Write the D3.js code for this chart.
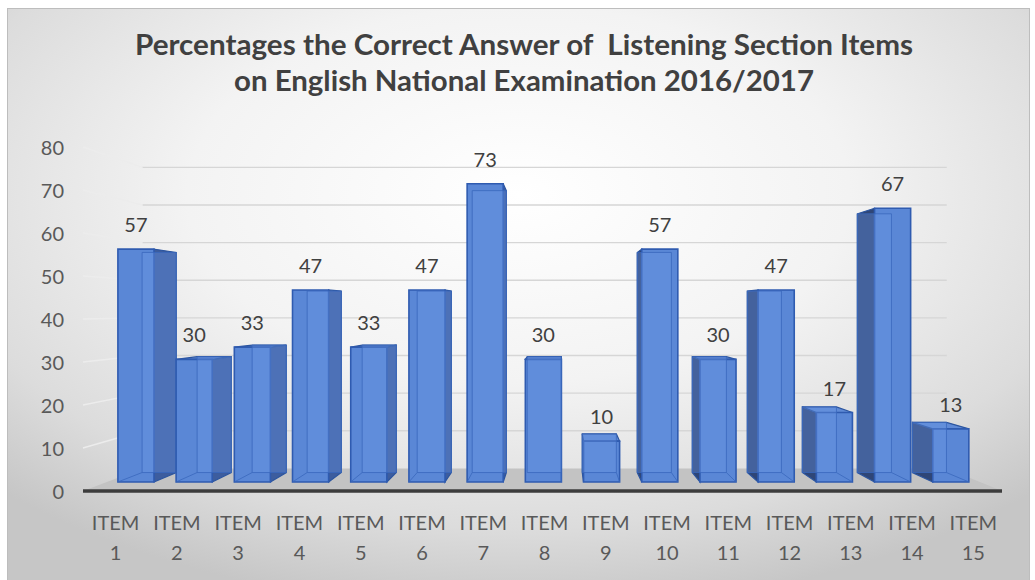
<!DOCTYPE html>
<html>
<head>
<meta charset="utf-8">
<script src="https://cdn.jsdelivr.net/npm/d3@7"></script>
<style>
  html, body { margin: 0; padding: 0; background: #ffffff; }
  svg { display: block; }
  text { font-family: Lato, "Open Sans", sans-serif; }
</style>
</head>
<body>
<script>
// ---- Data ----
const titleLines = ["Percentages the Correct Answer of  Listening Section Items", "on English National Examination 2016/2017"];
const categories = ["ITEM 1","ITEM 2","ITEM 3","ITEM 4","ITEM 5","ITEM 6","ITEM 7","ITEM 8","ITEM 9","ITEM 10","ITEM 11","ITEM 12","ITEM 13","ITEM 14","ITEM 15"];
const values = [57, 30, 33, 47, 33, 47, 73, 30, 10, 57, 30, 47, 17, 67, 13];
const yTicks = [0, 10, 20, 30, 40, 50, 60, 70, 80];

// ---- Setup ----
const W = 1035, H = 580;
const svg = d3.select("body").append("svg").attr("width", W).attr("height", H);
const defs = svg.append("defs");
const rg = defs.append("radialGradient").attr("id", "bg")
  .attr("cx", "0.5").attr("cy", "0.32").attr("r", "0.72").attr("fx", "0.5").attr("fy", "0.32");
rg.append("stop").attr("offset", "0").attr("stop-color", "#ffffff");
rg.append("stop").attr("offset", "0.45").attr("stop-color", "#f3f3f3");
rg.append("stop").attr("offset", "0.8").attr("stop-color", "#dcdcdc");
rg.append("stop").attr("offset", "1").attr("stop-color", "#c6c6c6");

svg.append("rect").attr("x", 7.5).attr("y", 8.5).attr("width", 1022).attr("height", 580)
  .attr("fill", "url(#bg)").attr("stroke", "#bdbdbd").attr("stroke-width", 1);

// ---- Scales (front plane) and simple perspective ----
const x = d3.scaleBand().domain(categories).range([83, 1002]);
const y = d3.scaleLinear().domain([0, 80]).range([491, 147]);
const VX = 560, VY = 310;
const S_BACK = 0.875, S_BF = 0.95, S_BB = 0.898;
const P = (xf, yf, s) => [VX + (xf - VX) * s, VY + (yf - VY) * s];
const poly = pts => pts.map(p => p.join(",")).join(" ");
const xL = x.range()[0], xR = x.range()[1];

// Floor
svg.append("polygon")
  .attr("points", poly([P(xL, y(0), 1), P(xR, y(0), 1), P(xR, y(0), S_BACK), P(xL, y(0), S_BACK)]))
  .attr("fill", "#c3c3c3");
svg.append("line")
  .attr("x1", xL).attr("x2", xR).attr("y1", y(0)).attr("y2", y(0))
  .attr("stroke", "#3c3c3c").attr("stroke-width", 3.5);

// Gridlines: left wall + back wall
const grid = svg.append("g");
yTicks.filter(v => v > 0).forEach(v => {
  const a = P(xL, y(v), 1), b = P(xL, y(v), S_BACK), c = P(xR, y(v), S_BACK);
  grid.append("line").attr("x1", a[0]).attr("y1", a[1]).attr("x2", b[0]).attr("y2", b[1])
    .attr("stroke", "#ececec").attr("stroke-width", 1.5);
  grid.append("line").attr("x1", b[0]).attr("y1", b[1]).attr("x2", c[0]).attr("y2", c[1])
    .attr("stroke", "#d6d6d6").attr("stroke-width", 1.3);
});

// Y tick labels
svg.append("g").selectAll("text").data(yTicks).join("text")
  .attr("x", 64).attr("y", d => y(d)).attr("text-anchor", "end")
  .attr("dominant-baseline", "central")
  .attr("font-size", 20).attr("fill", "#595959").text(d => d);

// Bars
const bw = x.bandwidth();
const barW = bw * 0.62;
const order = d3.range(categories.length).sort((a, b) =>
  Math.abs(x(categories[b]) + bw / 2 - VX) - Math.abs(x(categories[a]) + bw / 2 - VX));
const barsG = svg.append("g");
const EDGE = "#2c559f";
order.forEach(i => {
  const c = categories[i], v = values[i];
  const x0 = x(c) + (bw - barW) / 2, x1 = x0 + barW;
  const yb = y(0), yt = y(v);
  const g = barsG.append("g");
  const F = (xx, yy) => P(xx, yy, S_BF);
  const B = (xx, yy) => P(xx, yy, S_BB);
  // right side visible when bar is left of vanishing point
  if (x1 < VX) {
    g.append("polygon").attr("points", poly([F(x1, yb), B(x1, yb), B(x1, yt), F(x1, yt)]))
      .attr("fill", "#3d5d9e").attr("stroke", EDGE).attr("stroke-width", 1.2);
  }
  if (x0 > VX) {
    g.append("polygon").attr("points", poly([F(x0, yb), B(x0, yb), B(x0, yt), F(x0, yt)]))
      .attr("fill", "#2f4677").attr("stroke", EDGE).attr("stroke-width", 1.2);
  }
  if (F(0, yt)[1] > VY) {
    g.append("polygon").attr("points", poly([F(x0, yt), F(x1, yt), B(x1, yt), B(x0, yt)]))
      .attr("fill", "#5f8ad6").attr("stroke", EDGE).attr("stroke-width", 1.2);
  }
  // front face
  g.append("polygon").attr("points", poly([F(x0, yb), F(x1, yb), F(x1, yt), F(x0, yt)]))
    .attr("fill", "#5a87d6").attr("stroke", "#2f5bb0").attr("stroke-width", 1.6);
  // hidden edges seen through (translucent look)
  g.append("polygon").attr("points", poly([B(x0, yb), B(x1, yb), B(x1, yt), B(x0, yt)]))
    .attr("fill", "#6c98e4").attr("fill-opacity", 0.35)
    .attr("stroke", "#3a68bd").attr("stroke-opacity", 0.8).attr("stroke-width", 1);
  const hx = x1 < VX ? x0 : x1;
  const a = F(hx, yb), b = B(hx, yb);
  g.append("line").attr("x1", a[0]).attr("y1", a[1]).attr("x2", b[0]).attr("y2", b[1])
    .attr("stroke", "#3a68bd").attr("stroke-opacity", 0.8).attr("stroke-width", 1);
  // data label
  const top = F((x0 + x1) / 2, yt);
  svg.append("text").attr("x", top[0]).attr("y", top[1] - 25)
    .attr("text-anchor", "middle").attr("dominant-baseline", "central")
    .attr("font-size", 20).attr("fill", "#404040").text(v);
});

// Category labels (two lines)
const cl = svg.append("g");
categories.forEach(c => {
  const parts = c.split(" ");
  const cx = x(c) + bw / 2 + 2;
  cl.append("text").attr("x", cx).attr("y", 522).attr("text-anchor", "middle")
    .attr("dominant-baseline", "central").attr("font-size", 20).attr("fill", "#595959").text(parts[0]);
  cl.append("text").attr("x", cx).attr("y", 552).attr("text-anchor", "middle")
    .attr("dominant-baseline", "central").attr("font-size", 20).attr("fill", "#595959").text(parts[1]);
});

// Title
const tw = [778, 580];
titleLines.forEach((t, k) => {
  svg.append("text").attr("x", 524).attr("y", [44, 80][k])
    .attr("text-anchor", "middle").attr("dominant-baseline", "central")
    .attr("font-size", 28).attr("font-weight", "bold").attr("fill", "#404040")
    .style("white-space", "pre")
    .attr("textLength", tw[k]).attr("lengthAdjust", "spacingAndGlyphs")
    .text(t);
});
</script>
</body>
</html>
